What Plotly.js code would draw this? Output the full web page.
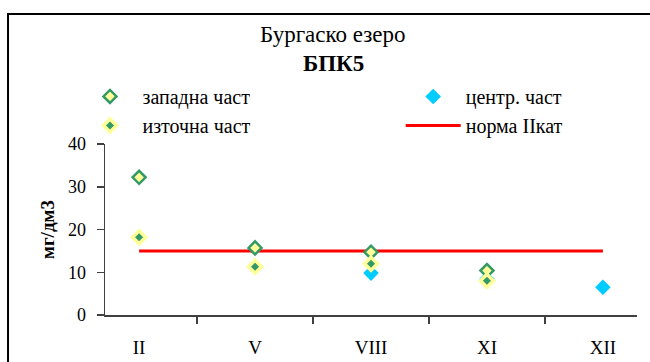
<!DOCTYPE html>
<html>
<head>
<meta charset="utf-8">
<script src="https://cdn.plot.ly/plotly-3.0.1.min.js"></script>
<style>html,body{margin:0;padding:0;background:#fff;}#chart{width:650px;height:362px;}</style>
</head>
<body>
<div id="chart"></div>
<script>
const months = ["II", "V", "VIII", "XI", "XII"];
const westPart = [32.2, 15.7, 14.7, 10.4, null];
const eastPart = [18.2, 11.3, 12.0, 8.0, null];
const centerPart = [null, null, 9.8, 8.4, 6.5];
const normII = [15, 15, 15, 15, 15];

const FONT = "'Liberation Serif', 'Times New Roman', serif";

const traces = [
  {x: months, y: normII, name: "норма IIкат", type: "scatter", mode: "lines",
   line: {color: "#FF0000", width: 3}, legend: "legend2", legendrank: 2},
  {x: months, y: centerPart, name: "центр. част", type: "scatter", mode: "markers",
   marker: {symbol: "diamond", size: 12, color: "#00CCFF", line: {width: 0}}, legend: "legend2", legendrank: 1},
  {x: months, y: westPart, name: "западна част", type: "scatter", mode: "markers",
   marker: {symbol: "diamond", size: 10, color: "#FFFF99", line: {color: "#339966", width: 2.5}}, legend: "legend", legendrank: 1},
  {x: months, y: eastPart, name: "източна част", type: "scatter", mode: "markers",
   marker: {symbol: "diamond", size: 10, color: "#339966", line: {color: "#FFFF99", width: 3.5}}, legend: "legend", legendrank: 2}
];

const legendCommon = {orientation: "v", yanchor: "top", xanchor: "left", itemwidth: 55,
  font: {family: FONT, size: 20, color: "#000"}, traceorder: "normal", bgcolor: "rgba(0,0,0,0)", borderwidth: 0};

const layout = {
  width: 650, height: 362,
  margin: {l: 105, r: 13, t: 144, b: 47},
  paper_bgcolor: "#fff", plot_bgcolor: "#fff",
  font: {family: FONT, color: "#000", size: 18},
  showlegend: true,
  title: {text: "Бургаско езеро", font: {family: FONT, size: 23, color: "#000"},
          xref: "container", yref: "container", x: 0.512, xanchor: "center", y: 1 - 34 / 362, yanchor: "middle"},
  annotations: [{text: "<b>БПК5</b>", xref: "paper", yref: "paper", x: (333 - 105) / 532, y: (315 - 63) / 171,
                 xanchor: "center", yanchor: "middle", showarrow: false, font: {family: FONT, size: 23, color: "#000"}}],
  legend: Object.assign({}, legendCommon, {x: -0.0517, y: 1.392}),
  legend2: Object.assign({}, legendCommon, {x: 0.5558, y: 1.392}),
  xaxis: {type: "category", showgrid: false, zeroline: false, showline: true, linecolor: "#404040", linewidth: 1.5,
          ticks: "outside", tickson: "boundaries", ticklen: 7, tickcolor: "#404040", tickwidth: 1.5,
          tickfont: {family: FONT, size: 19}, ticklabelstandoff: 15, fixedrange: true},
  yaxis: {range: [0, 40], tickvals: [0, 10, 20, 30, 40], showgrid: false, zeroline: false, showline: true,
          linecolor: "#404040", linewidth: 1.5, ticks: "outside", ticklen: 7, tickcolor: "#404040", tickwidth: 1.5,
          tickfont: {family: FONT, size: 18}, ticklabelstandoff: 7,
          title: {text: "<b>мг/дм3</b>", font: {family: FONT, size: 19}, standoff: 8}, fixedrange: true},
  shapes: [{type: "rect", xref: "paper", yref: "paper", x0: -0.1823, x1: 1.2, y0: -0.6, y1: 1.760,
            line: {color: "#000", width: 2}, fillcolor: "rgba(0,0,0,0)", layer: "below"}]
};

Plotly.newPlot("chart", traces, layout, {displayModeBar: false, staticPlot: true});
</script>
</body>
</html>
